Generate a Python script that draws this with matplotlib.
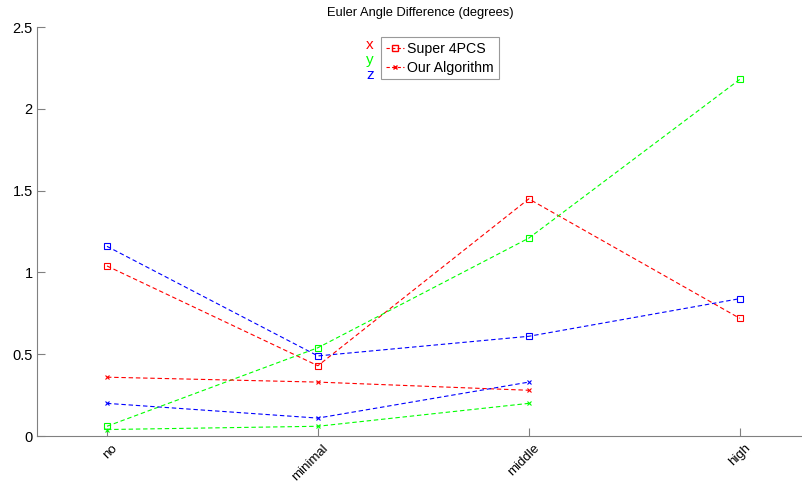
import matplotlib.pyplot as plt
import matplotlib.transforms as mtransforms
from matplotlib.lines import Line2D

plt.rcParams['font.family'] = ['Liberation Sans', 'DejaVu Sans']

levels = ["no", "minimal", "middle", "high"]
axes_names = ["x", "y", "z"]
colors = ["#ff0000", "#00ff00", "#0000ff"]

# Super 4PCS, one list per Euler angle
super4pcs = [
    [1.04, 0.43, 1.45, 0.72],
    [0.06, 0.54, 1.21, 2.18],
    [1.16, 0.49, 0.61, 0.84],
]
# Our Algorithm (no value for "high")
ours = [
    [0.36, 0.33, 0.28],
    [0.04, 0.06, 0.20],
    [0.20, 0.11, 0.33],
]

fig = plt.figure(figsize=(8.03, 4.84), dpi=100)
ax = fig.add_axes([0.046, 0.099, 0.954, 0.845])

pos = list(range(1, len(levels) + 1))
for vals, c in zip(super4pcs, colors):
    ax.plot(pos[:len(vals)], vals, ls="--", color=c, lw=0.8, marker="s",
            ms=4, mfc="none", mec=c, mew=0.8, dashes=(4, 2.5))
for vals, c in zip(ours, colors):
    ax.plot(pos[:len(vals)], vals, ls="--", color=c, lw=0.8, marker="x",
            ms=2.5, mew=0.8, dashes=(4, 2.5))

ax.set_xlim(0.668, 4.3)
ax.set_ylim(0, 2.5)
ax.set_xticks(pos)
ax.set_xticklabels([])
# rotated category labels, top-right corner just right of each tick
shift = mtransforms.ScaledTranslation(13 / 100, -6 / 100, fig.dpi_scale_trans)
for p, name in zip(pos, levels):
    ax.text(p, 0, name, rotation=45, ha="right", va="top", fontsize=9.5,
            transform=ax.get_xaxis_transform() + shift)
ax.set_yticks([0, 0.5, 1, 1.5, 2, 2.5])
ax.set_yticklabels(["0", "0.5", "1", "1.5", "2", "2.5"], fontsize=10.5)
ax.tick_params(direction="in", length=6, color="#808080", width=0.8)
ax.tick_params(axis="y", pad=3)
for s in ["top", "right"]:
    ax.spines[s].set_visible(False)
for s in ["left", "bottom"]:
    ax.spines[s].set_color("#808080")
    ax.spines[s].set_linewidth(0.8)
ax.set_title("Euler Angle Difference (degrees)", fontsize=9.3, pad=8)

handles = [
    Line2D([], [], ls="--", color="#ff0000", lw=0.8, marker="s", ms=4,
           mfc="none", dashes=(3, 2)),
    Line2D([], [], ls="--", color="#ff0000", lw=0.8, marker="x", ms=2.5,
           dashes=(3, 2)),
]
leg = ax.legend(handles, ["Super 4PCS", "Our Algorithm"], loc="upper left",
                bbox_to_anchor=(0.449, 0.975), fontsize=10.2, frameon=True,
                fancybox=False, edgecolor="#808080", handlelength=1.3,
                handletextpad=0.2, borderpad=0.35, borderaxespad=0,
                labelspacing=0.3)
leg.get_frame().set_linewidth(0.8)
for i, (n, c) in enumerate(zip(axes_names, colors)):
    fig.text(370 / 803, 1 - (45 + 15 * i) / 484, n, color=c, fontsize=11,
             ha="center", va="center")

fig.savefig("out.png", dpi=100)
